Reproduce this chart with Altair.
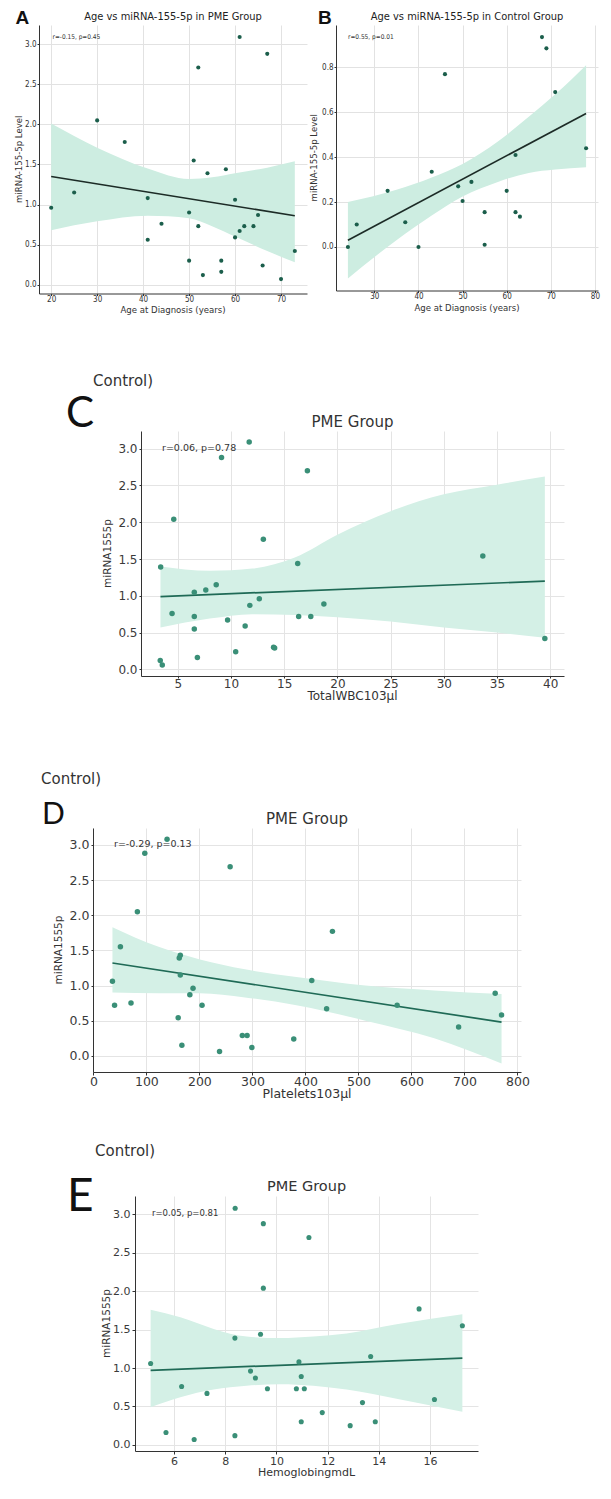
import altair as alt
import pandas as pd

# ---------------- Panel A : Age vs miRNA-155-5p, PME group ----------------
a_age = [20, 25, 30, 36, 41, 41, 44, 50, 50, 51, 52, 52, 53, 54, 57, 57, 58, 60, 60, 61, 61, 62, 64, 65, 66, 67, 70, 73]
a_mirna = [0.96, 1.15, 2.05, 1.78, 1.08, 0.56, 0.76, 0.90, 0.30, 1.55, 2.71, 0.73, 0.12, 1.39, 0.30, 0.16, 1.44, 1.06,
           0.59, 3.09, 0.67, 0.73, 0.73, 0.87, 0.24, 2.88, 0.07, 0.42]
a_band_x = [20, 30, 41, 50, 55, 60, 67, 73]
a_band_lo = [0.68, 0.79, 0.86, 0.83, 0.73, 0.60, 0.42, 0.28]
a_band_hi = [2.01, 1.71, 1.45, 1.32, 1.34, 1.39, 1.46, 1.54]
a_fit_x = [20, 73]
a_fit_y = [1.35, 0.86]

# ---------------- Panel B : Age vs miRNA-155-5p, Control group ----------------
b_age = [24, 26, 33, 37, 40, 43, 46, 49, 50, 52, 55, 55, 60, 62, 62, 63, 68, 69, 71, 78]
b_mirna = [0.00, 0.10, 0.25, 0.11, 0.00, 0.335, 0.77, 0.27, 0.205, 0.29, 0.155, 0.01, 0.25, 0.41, 0.155, 0.135,
           0.935, 0.885, 0.69, 0.44]
b_band_x = [24, 35, 43, 50, 58, 65, 71, 78]
b_band_lo = [-0.14, 0.03, 0.14, 0.225, 0.29, 0.33, 0.345, 0.355]
b_band_hi = [0.20, 0.255, 0.31, 0.37, 0.47, 0.58, 0.68, 0.81]
b_fit_x = [24, 78]
b_fit_y = [0.03, 0.595]

# ---------------- Panel C : Total WBC vs miRNA1555p ----------------
c_wbc = [3.39, 3.35, 3.54, 4.62, 4.46, 6.55, 6.55, 6.55, 6.84, 7.63, 8.61, 9.11, 9.68, 10.44, 11.33, 11.71, 11.77,
         12.66, 13.04, 14.0, 14.1, 16.27, 16.36, 17.18, 17.5, 18.73, 33.67, 39.5]
c_mirna = [1.39, 0.12, 0.06, 2.04, 0.76, 1.05, 0.72, 0.55, 0.16, 1.08, 1.15, 2.88, 0.67, 0.24, 0.59, 3.09, 0.87,
           0.96, 1.77, 0.30, 0.29, 1.44, 0.72, 2.70, 0.72, 0.89, 1.54, 0.42]
c_band_x = [3.37, 8, 12, 16, 20, 25, 30, 35, 39.5]
c_band_lo = [0.57, 0.69, 0.75, 0.74, 0.71, 0.65, 0.57, 0.50, 0.43]
c_band_hi = [1.40, 1.34, 1.37, 1.52, 1.83, 2.15, 2.38, 2.51, 2.62]
c_fit_x = [3.37, 39.5]
c_fit_y = [0.99, 1.20]

# ---------------- Panel D : Platelets vs miRNA1555p ----------------
d_plt = [36, 40, 51, 71, 83, 97, 139, 160, 162, 164, 164, 167, 182, 188, 205, 238, 258, 281, 290, 299, 378, 412,
         440, 451, 573, 689, 758, 770]
d_mirna = [1.06, 0.72, 1.55, 0.75, 2.05, 2.88, 3.08, 0.54, 1.39, 1.43, 1.15, 0.15, 0.87, 0.96, 0.72, 0.06, 2.69,
           0.29, 0.29, 0.12, 0.24, 1.07, 0.67, 1.77, 0.72, 0.41, 0.89, 0.58]
d_band_x = [36, 123, 201, 286, 383, 513, 643, 770]
d_band_lo = [0.90, 0.89, 0.89, 0.83, 0.72, 0.50, 0.25, -0.11]
d_band_hi = [1.83, 1.55, 1.37, 1.23, 1.12, 1.00, 0.93, 0.88]
d_fit_x = [36, 770]
d_fit_y = [1.32, 0.48]

# ---------------- Panel E : Hemoglobin vs miRNA1555p ----------------
e_hb = [5.09, 5.69, 6.30, 6.79, 7.29, 8.38, 8.38, 8.39, 8.99, 9.18, 9.38, 9.49, 9.49, 9.65, 10.78, 10.88, 10.97,
        10.97, 11.09, 11.27, 11.79, 12.88, 13.36, 13.68, 13.86, 15.57, 16.17, 17.26]
e_mirna = [1.06, 0.16, 0.76, 0.07, 0.67, 1.39, 0.12, 3.08, 0.96, 0.87, 1.44, 2.88, 2.04, 0.73, 0.73, 1.08, 0.89,
           0.30, 0.73, 2.70, 0.42, 0.25, 0.55, 1.15, 0.30, 1.77, 0.59, 1.55]
e_band_x = [5.09, 6.25, 7.55, 8.84, 10.14, 11.44, 12.74, 14.69, 17.26]
e_band_lo = [0.49, 0.62, 0.72, 0.77, 0.79, 0.77, 0.72, 0.60, 0.43]
e_band_hi = [1.76, 1.66, 1.51, 1.41, 1.39, 1.41, 1.45, 1.57, 1.70]
e_fit_x = [5.09, 17.26]
e_fit_y = [0.97, 1.13]

COND = "DejaVu Sans Condensed"
SANS = "DejaVu Sans"
LETTER = "Lato"

ONE = pd.DataFrame({"k": [0]})


def text_layer(txt, x, y, size, font, color="#222222", weight="normal", align="left", angle=0):
    return alt.Chart(ONE).mark_text(
        text=txt, align=align, baseline="middle", fontSize=size, font=font, color=color,
        fontWeight=weight, angle=angle
    ).encode(x=alt.value(x), y=alt.value(y))


def spacer(S, H=1):
    return alt.Chart(ONE).mark_rect(opacity=0).encode(
        x=alt.value(0), x2=alt.value(S), y=alt.value(0), y2=alt.value(H)
    ).properties(width=S, height=H)


def panel(xs, ys, bx, blo, bhi, fx, fy, xdom, ydom, xticks, yticks, W, H, frame,
          xtitle, ytitle, sty, texts):
    L, T, R, B = frame
    pts = pd.DataFrame({"x": xs, "y": ys})
    band = pd.DataFrame({"x": bx, "lo": blo, "hi": bhi})
    fit = pd.DataFrame({"x": fx, "y": fy})
    xsc = alt.Scale(domain=xdom, nice=False, zero=False)
    ysc = alt.Scale(domain=ydom, nice=False, zero=False)
    xaxis = alt.Axis(values=xticks, title=None, grid=True, gridColor=sty["grid"], domainColor=sty["dom"],
                     tickColor=sty["dom"], tickSize=sty["xtick"], labelPadding=sty["xpad"],
                     labelFont=sty["font"], labelFontSize=sty["lab"], labelColor=sty["lc"],
                     labelFlush=False, labelOverlap=False)
    yaxis = alt.Axis(values=yticks, format=".1f", title=None, grid=True, gridColor=sty["grid"],
                     domainColor=sty["dom"], tickColor=sty["dom"], tickSize=sty["ytick"],
                     labelPadding=sty["ypad"], labelFont=sty["font"], labelFontSize=sty["lab"],
                     labelColor=sty["lc"], labelOverlap=False)
    frame_l = alt.Chart(ONE).mark_rect(opacity=0).encode(
        x=alt.value(-L), x2=alt.value(W + R), y=alt.value(-T), y2=alt.value(H + B))
    pt_l = alt.Chart(pts).mark_circle(color=sty["pt"], opacity=1, size=sty["ps"]).encode(
        x=alt.X("x:Q", scale=xsc, axis=xaxis), y=alt.Y("y:Q", scale=ysc, axis=yaxis))
    band_l = alt.Chart(band).mark_area(interpolate="monotone", color=sty["band"], opacity=1).encode(
        x=alt.X("x:Q", scale=xsc), y=alt.Y("lo:Q", scale=ysc), y2="hi:Q")
    fit_l = alt.Chart(fit).mark_line(color=sty["line"], strokeWidth=sty["lw"]).encode(
        x=alt.X("x:Q", scale=xsc), y=alt.Y("y:Q", scale=ysc))
    axis_titles = [
        text_layer(xtitle, W / 2, H + sty["xty"], sty["xtit"], sty["font"], sty["tc"], "normal", "center"),
        text_layer(ytitle, sty["ytx"], H / 2, sty["ytit"], sty["font"], sty["tc"], "normal", "center", 270),
    ]
    layers = [frame_l, band_l, fit_l, pt_l] + axis_titles + [text_layer(*t) for t in texts]
    return alt.layer(*layers).properties(width=W, height=H)


STY_AB = dict(font=COND, lab=8, xtit=9.5, ytit=9.5, lc="#333333", tc="#333333", grid="#e2e2e2", dom="#333333",
              xtick=2, xpad=0, ytick=2, ypad=1, xty=16, ytx=-20, band="#cdede1", line="#1c2b26", lw=1.6,
              pt="#1b5e4b", ps=17)
sty_a = dict(STY_AB)
sty_b = dict(STY_AB, xty=17.5, ytx=-22)

STY_CDE = dict(font=SANS, lab=12, xtit=12, ytit=10.5, lc="#3a3a3a", tc="#333333", grid="#e4e4e4", dom="#333333",
               xtick=2, xpad=0, ytick=2, ypad=2, xty=20, ytx=-33, band="#d4f0e6", line="#1f6a56", lw=1.7,
               pt="#3a8f77", ps=30)
sty_c = dict(STY_CDE)
sty_d = dict(STY_CDE, lab=12.5, xtit=12.5, xtick=3, xpad=0, xty=22, ytx=-34)
sty_e = dict(STY_CDE, lab=11, xtit=11, ytit=10.5, xtick=3, xpad=1, ytick=3, ypad=2, xty=22, ytx=-28, ps=26)

y_ticks_pme = [0.0, 0.5, 1.0, 1.5, 2.0, 2.5, 3.0]

pa = panel(a_age, a_mirna, a_band_x, a_band_lo, a_band_hi, a_fit_x, a_fit_y,
           [17.35, 75.65], [-0.11, 3.24], [20, 30, 40, 50, 60, 70], y_ticks_pme,
           268, 268.5, (30.5, 16.5, 0.5, 47),
           "Age at Diagnosis (years)", "miRNA-155-5p Level", sty_a,
           [("Age vs miRNA-155-5p in PME Group", 134, -8, 11, COND, "#222222", "normal", "center"),
            ("A", -23.5, -7, 19, "Liberation Sans", "#111111", "bold", "left"),
            ("r=-0.15, p=0.45", 13.5, 12, 6.5, COND, "#333333", "normal", "left")])

pb = panel(b_age, b_mirna, b_band_x, b_band_lo, b_band_hi, b_fit_x, b_fit_y,
           [21.3, 80.7], [-0.194, 0.989], [30, 40, 50, 60, 70, 80], [0.0, 0.2, 0.4, 0.6, 0.8],
           262, 265.5, (28, 16.5, 3, 50),
           "Age at Diagnosis (years)", "miRNA-155-5p Level", sty_b,
           [("Age vs miRNA-155-5p in Control Group", 131, -8, 11, COND, "#222222", "normal", "center"),
            ("B", -18, -7, 19, "Liberation Sans", "#111111", "bold", "left"),
            ("r=0.55, p=0.01", 12, 12, 6.5, COND, "#333333", "normal", "left")])

pc = panel(c_wbc, c_mirna, c_band_x, c_band_lo, c_band_hi, c_fit_x, c_fit_y,
           [1.54, 41.3], [-0.09, 3.24], [5, 10, 15, 20, 25, 30, 35, 40], y_ticks_pme,
           423, 245, (80, 90, 36, 55),
           "TotalWBC103µl", "miRNA1555p", sty_c,
           [("Control)", -48, -50, 15, SANS, "#333333", "normal", "left"),
            ("C", -75, -17, 42, LETTER, "#111111", "normal", "left"),
            ("PME Group", 211.5, -9, 15, SANS, "#333333", "normal", "center"),
            ("r=0.06, p=0.78", 21, 17, 9.5, SANS, "#333333", "normal", "left")])

pd_ = panel(d_plt, d_mirna, d_band_x, d_band_lo, d_band_hi, d_fit_x, d_fit_y,
            [-0.7, 806.7], [-0.23, 3.24], [0, 100, 200, 300, 400, 500, 600, 700, 800], y_ticks_pme,
            428, 244, (52.5, 97, 80, 44),
            "Platelets103µl", "miRNA1555p", sty_d,
            [("Control)", -52, -49, 15, SANS, "#333333", "normal", "left"),
             ("D", -51, -13, 30, LETTER, "#111111", "normal", "left"),
             ("PME Group", 214, -9, 15, SANS, "#333333", "normal", "center"),
             ("r=-0.29, p=0.13", 21, 16, 9.5, SANS, "#333333", "normal", "left")])

pe = panel(e_hb, e_mirna, e_band_x, e_band_lo, e_band_hi, e_fit_x, e_fit_y,
           [4.48, 17.87], [-0.08, 3.24], [6, 8, 10, 12, 14, 16], y_ticks_pme,
           343, 255, (70, 80, 122, 28),
           "HemoglobingmdL", "miRNA1555p", sty_e,
           [("Control)", -40, -45, 15, SANS, "#333333", "normal", "left"),
            ("E", -68, 1, 46, LETTER, "#111111", "normal", "left"),
            ("PME Group", 171.5, -9, 14.5, SANS, "#333333", "normal", "center"),
            ("r=0.05, p=0.81", 17, 17, 8.5, SANS, "#333333", "normal", "left")])

row1 = alt.hconcat(pa, pb, spacing=0)
row_c = alt.hconcat(spacer(22), pc, spacing=0)
row_d = alt.hconcat(spacer(1), pd_, spacing=0)
row_e = alt.hconcat(spacer(26), pe, spacing=0)
chart = alt.vconcat(row1, row_c, row_d, row_e, spacing=0).properties(padding=0).configure_view(stroke=None)

chart.save("out.html", embed_options={"renderer": "svg", "actions": False})
